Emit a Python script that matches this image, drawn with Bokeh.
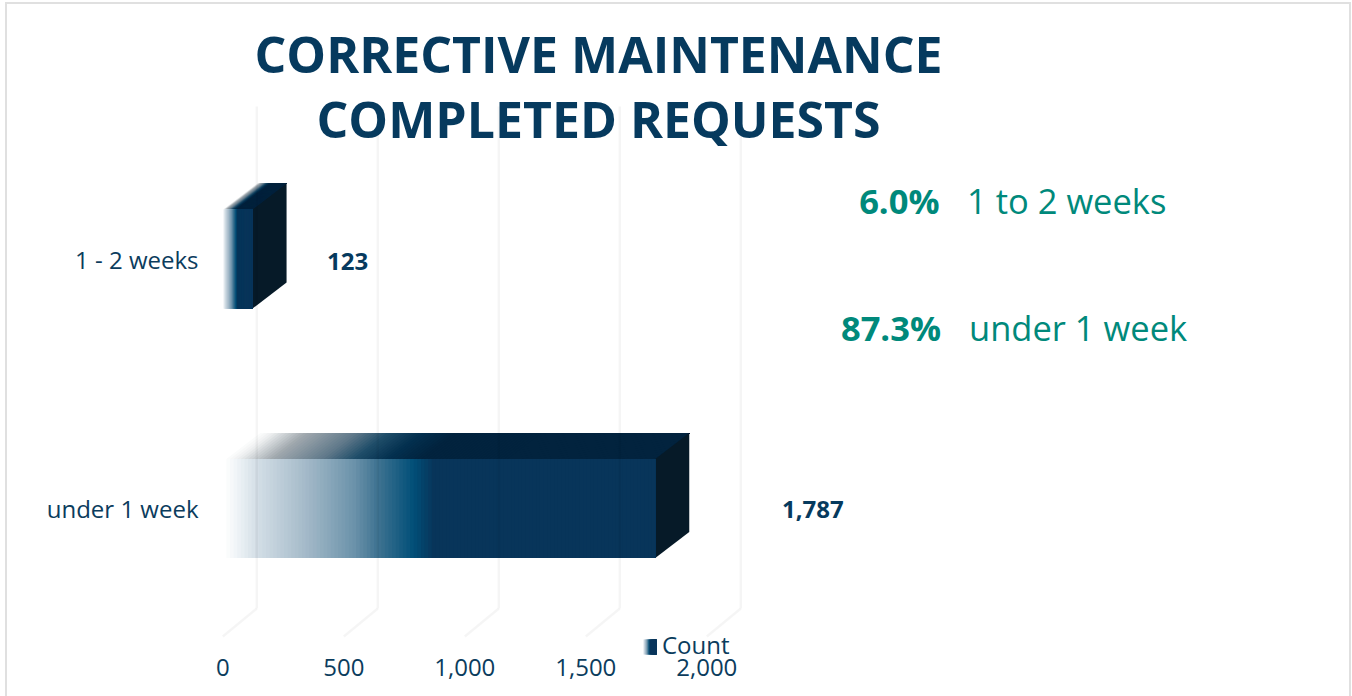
from bokeh.plotting import figure
from bokeh.embed import file_html
from bokeh.resources import INLINE
from bokeh.models import FixedTicker, NumeralTickFormatter, Label, Range1d, InlineStyleSheet

# ---- data -------------------------------------------------------------
categories = ["under 1 week", "1 - 2 weeks"]
cat_pos = [0, 1]
counts = [1787, 123]
value_ticks = [0, 500, 1000, 1500, 2000]
kpi_values = ["6.0%", "87.3%"]
kpi_labels = ["1 to 2 weeks", "under 1 week"]
title_lines = ["CORRECTIVE MAINTENANCE", "COMPLETED REQUESTS"]

# ---- layout: frame in page pixels, scales derived from it -----------------
W, H = 1352, 696
F_L, F_R, F_T, F_B = 205, 1352, 0, 662
PX_PER_X = 0.242
X0_PX = 222.3
PX_PER_Y = 249.5
Y0_PX = 508
x_start = (F_L - X0_PX) / PX_PER_X
x_end = (F_R - X0_PX) / PX_PER_X
y_start = (Y0_PX - F_B) / PX_PER_Y
y_end = (Y0_PX - F_T) / PX_PER_Y


def X(px):
    return (px - X0_PX) / PX_PER_X


def Y(py):
    return (Y0_PX - py) / PX_PER_Y


DX = 34 / PX_PER_X
DY = 26 / PX_PER_Y
HALF = 49.5 / PX_PER_Y

NAVY = "#0b3c5d"
TEAL = "#00897b"
FONT = "Open Sans"

border_css = InlineStyleSheet(css=""":host::after {content:""; position:absolute; left:5px; top:2px; right:1px; bottom:0;
 border:2px solid #e0e0e0; border-bottom:none; pointer-events:none; box-sizing:border-box;}""")

p = figure(width=W, height=H, output_backend="svg", toolbar_location=None,
           x_range=Range1d(x_start, x_end), y_range=Range1d(y_start, y_end),
           min_border_left=F_L, min_border_right=W - F_R, min_border_top=F_T,
           min_border_bottom=H - F_B, outline_line_color=None,
           background_fill_color=None, border_fill_color="white",
           stylesheets=[border_css])
p.grid.visible = False

ax = p.xaxis[0]
ax.ticker = FixedTicker(ticks=value_ticks)
ax.formatter = NumeralTickFormatter(format="0,0")
ax.axis_line_color = None
ax.major_tick_line_color = None
ax.minor_tick_line_color = None
ax.major_label_text_font = FONT
ax.major_label_text_font_size = "24px"
ax.major_label_text_color = NAVY
ax.major_label_standoff = -10

ay = p.yaxis[0]
ay.ticker = FixedTicker(ticks=cat_pos)
ay.major_label_overrides = {pos: name for pos, name in zip(cat_pos, categories)}
ay.axis_line_color = None
ay.major_tick_line_color = None
ay.minor_tick_line_color = None
ay.major_label_text_font = FONT
ay.major_label_text_font_size = "24px"
ay.major_label_text_color = NAVY
ay.major_label_standoff = 1


def hex2rgb(c):
    return tuple(int(c[i:i + 2], 16) for i in (1, 3, 5))


def ramp(stops, t):
    for (a, ca), (b, cb) in zip(stops, stops[1:]):
        if t <= b:
            f = (t - a) / (b - a)
            ra, rb = hex2rgb(ca), hex2rgb(cb)
            return "#%02x%02x%02x" % tuple(round(u + (v - u) * f) for u, v in zip(ra, rb))
    return stops[-1][1]


FRONT = [(0, "#ffffff"), (.03, "#eef3f6"), (.076, "#d3dee6"), (.19, "#a3b9c8"), (.30, "#6b92aa"),
         (.354, "#3f7391"), (.437, "#014f78"), (.484, "#08355a"), (1, "#08355a")]
TOP = [(0, "#ffffff"), (.03, "#eef0f1"), (.11, "#a0a8ae"), (.225, "#60798a"), (.30, "#1f4d69"),
       (.377, "#03304f"), (.456, "#02233e"), (1, "#02233e")]
SIDE = "#061a28"
STRIPS = 120

for pos, val in zip(cat_pos, counts):
    lefts = [val * i / STRIPS for i in range(STRIPS)]
    lo, hi = pos - HALF, pos + HALF
    # top face
    p.patches([[l, val, val + DX, l + DX] for l in lefts],
              [[hi, hi, hi + DY, hi + DY] for _ in lefts],
              fill_color=[ramp(TOP, l / val) for l in lefts], line_color=None)
    # side face
    p.patch([val, val + DX, val + DX, val], [lo, lo + DY, hi + DY, hi], fill_color=SIDE, line_color=None)
    # front face
    p.quad(left=lefts, right=[val] * STRIPS, bottom=[lo] * STRIPS, top=[hi] * STRIPS,
           fill_color=[ramp(FRONT, l / val) for l in lefts], line_color=None)

# gridlines (back wall + floor)
floor_y, floor_dy = Y(636), 28 / PX_PER_Y
top_y = Y(106)
p.segment(x0=[t + DX for t in value_ticks], y0=[floor_y + floor_dy] * 5,
          x1=[t + DX for t in value_ticks], y1=[top_y] * 5,
          line_color="black", line_alpha=0.04, line_width=2.5)
p.segment(x0=value_ticks, y0=[floor_y] * 5, x1=[t + DX for t in value_ticks], y1=[floor_y + floor_dy] * 5,
          line_color="black", line_alpha=0.04, line_width=2.5)


def lab(text, px, py, size, color, bold=False, align="left"):
    p.add_layout(Label(x=X(px), y=Y(py), text=text, text_font=FONT, text_font_size=f"{size}px",
                       text_color=color, text_font_style="bold" if bold else "normal",
                       text_align=align, text_baseline="middle"))


lab(title_lines[0], 598, 53, 50, "#063a5e", True, "center")
lab(title_lines[1], 598, 118, 50, "#063a5e", True, "center")

lab(f"{counts[1]:,}", 326.5, 261, 24, "#063a5e", True)
lab(f"{counts[0]:,}", 781.5, 509, 24, "#063a5e", True)

lab(kpi_values[0], 939, 200, 34.5, TEAL, True, "right")
lab(kpi_labels[0], 966.5, 200, 34.5, TEAL)
lab(kpi_values[1], 940.5, 327, 34.5, TEAL, True, "right")
lab(kpi_labels[1], 968.5, 327, 34.5, TEAL)

# legend
for i in range(14):
    l = 642 + i
    p.quad(left=[X(l)], right=[X(656)], bottom=[Y(654)], top=[Y(639)],
           fill_color=ramp(FRONT, i / 14), line_color=None)
lab("Count", 661.5, 644, 24, NAVY)

open("out.html", "w").write(file_html(p, INLINE))
